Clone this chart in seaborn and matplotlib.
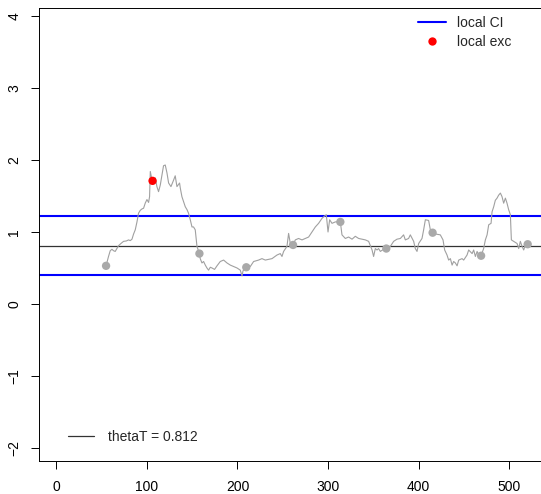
import matplotlib
matplotlib.use("Agg")
import matplotlib.pyplot as plt
from matplotlib.lines import Line2D
import seaborn as sns
import pandas as pd

# Running local estimate of theta along the series
series_x = [55.0, 57.7, 59.6, 61.5, 63.2, 65.1, 67.0, 68.8, 71.4, 74.3, 77.3, 79.8, 81.7, 83.6,
            85.3, 87.2, 89.1, 90.8, 92.7, 94.6, 96.4, 98.2, 100.1, 101.9, 103.0, 103.8, 104.9,
            106.3, 109.3, 111.1, 112.9, 114.8, 116.7, 118.4, 120.3, 122.2, 124.0, 126.6, 129.5,
            131.3, 133.2, 136.1, 136.9, 138.7, 140.5, 142.4, 144.3, 146.0, 147.9, 149.8, 151.5,
            153.4, 155.3, 158.0, 158.9, 160.8, 162.6, 164.5, 166.3, 168.1, 170.0, 171.9, 174.7,
            177.4, 181.0, 184.7, 188.4, 192.1, 195.7, 199.5, 203.1, 205.0, 206.1, 209.7, 212.3,
            214.1, 217.8, 223.3, 227.0, 230.7, 234.3, 238.1, 243.6, 247.2, 249.1, 250.9, 254.6,
            256.4, 258.3, 261.3, 263.8, 267.4, 271.2, 274.8, 278.5, 282.2, 285.9, 289.5, 293.3,
            295.0, 298.0, 299.9, 301.7, 304.3, 308.0, 313.5, 315.3, 319.0, 322.6, 326.4, 330.0,
            333.7, 337.4, 341.1, 344.7, 348.5, 350.2, 352.1, 354.0, 355.7, 357.6, 361.3, 364.2,
            368.7, 372.3, 376.0, 379.7, 383.3, 385.2, 388.8, 390.7, 394.4, 396.2, 398.1, 399.9,
            403.6, 405.4, 407.3, 410.9, 412.8, 415.3, 419.4, 423.8, 426.8, 428.6, 431.2, 433.0,
            434.9, 436.8, 438.5, 440.4, 442.3, 444.1, 447.8, 449.6, 453.3, 455.1, 458.9, 460.6,
            462.5, 464.4, 466.1, 468.8, 471.6, 473.5, 475.4, 477.2, 479.8, 480.9, 482.7, 484.5,
            486.4, 488.1, 490.1, 491.9, 493.7, 495.6, 497.4, 499.2, 501.1, 502.2, 504.7, 508.5,
            510.3, 512.1, 514.0, 515.8, 517.7, 520.2, 523.2]
series_y = [0.53, 0.66, 0.74, 0.76, 0.74, 0.73, 0.77, 0.81, 0.84, 0.87, 0.875, 0.89, 0.88, 0.90,
            0.97, 1.03, 1.14, 1.26, 1.30, 1.32, 1.33, 1.40, 1.45, 1.41, 1.49, 1.84, 1.77,
            1.71, 1.75, 1.63, 1.56, 1.65, 1.79, 1.92, 1.93, 1.82, 1.68, 1.63, 1.72,
            1.78, 1.63, 1.68, 1.61, 1.49, 1.42, 1.35, 1.31, 1.26, 1.17, 1.07, 1.07,
            1.03, 0.80, 0.70, 0.63, 0.57, 0.59, 0.54, 0.50, 0.47, 0.51, 0.50, 0.48,
            0.53, 0.59, 0.61, 0.57, 0.54, 0.52, 0.50, 0.47, 0.39, 0.46, 0.51, 0.54,
            0.52, 0.59, 0.61, 0.63, 0.61, 0.62, 0.63, 0.68, 0.70, 0.66, 0.73, 0.80,
            0.98, 0.84, 0.82, 0.89, 0.91, 0.89, 0.91, 0.93, 1.00, 1.07, 1.12, 1.19,
            1.21, 1.24, 1.00, 1.17, 1.12, 1.14, 1.14, 0.96, 0.91, 0.93, 0.90, 0.94,
            0.91, 0.90, 0.89, 0.87, 0.75, 0.66, 0.77, 0.75, 0.77, 0.73, 0.76, 0.77,
            0.80, 0.87, 0.90, 0.91, 0.96, 0.89, 0.91, 0.96, 0.87, 0.77, 0.73, 0.84,
            0.91, 1.03, 1.17, 1.16, 1.03, 0.99, 0.97, 0.96, 0.89, 0.75, 0.68, 0.61,
            0.63, 0.54, 0.59, 0.57, 0.53, 0.61, 0.63, 0.61, 0.68, 0.75, 0.70, 0.75,
            0.66, 0.73, 0.68, 0.67, 0.77, 0.89, 0.96, 1.10, 1.12, 1.28, 1.35, 1.44,
            1.47, 1.51, 1.54, 1.49, 1.40, 1.47, 1.40, 1.31, 1.24, 0.89, 0.87, 0.84,
            0.77, 0.87, 0.80, 0.75, 0.82, 0.83, 0.84]

# Checkpoints along the series
check_x = [55.0, 158.0, 209.7, 261.3, 313.5, 364.2, 415.3, 468.8, 520.2]
check_y = [0.53, 0.70, 0.51, 0.82, 1.14, 0.77, 0.99, 0.67, 0.83]

# Checkpoints falling outside the local CI
exc_x = [106.3]
exc_y = [1.71]

theta_T = 0.812
ci_low = 0.407
ci_high = 1.217

x_ticks = [0, 100, 200, 300, 400, 500]
y_ticks = [-2, -1, 0, 1, 2, 3, 4]

series = pd.DataFrame({"t": series_x, "theta": series_y})
checks = pd.DataFrame({"t": check_x, "theta": check_y})
excs = pd.DataFrame({"t": exc_x, "theta": exc_y})

sns.set_style("ticks")
plt.rcParams["font.family"] = ["Liberation Sans", "DejaVu Sans"]

W, H = 541, 494
fig = plt.figure(figsize=(W / 100, H / 100), dpi=100)
ax = fig.add_axes([39 / W, 33 / H, (542 - 39) / W, (461 - 8) / H])

ax.axhline(theta_T, color="#333333", lw=0.9, zorder=1)
ax.axhline(ci_low, color="#0000ff", lw=1.5, zorder=1)
ax.axhline(ci_high, color="#0000ff", lw=1.5, zorder=1)

sns.lineplot(data=series, x="t", y="theta", color="#a0a0a0", lw=0.8,
             estimator=None, sort=False, ax=ax, zorder=2)
sns.scatterplot(data=checks, x="t", y="theta", color="#a9a9a9", s=36,
                edgecolor="none", ax=ax, zorder=3)
sns.scatterplot(data=excs, x="t", y="theta", color="#ff0000", s=36,
                edgecolor="none", ax=ax, zorder=4)

ax.set_xlim(-19, 536)
ax.set_ylim(-2.18, 4.11)
ax.set_xticks(x_ticks)
ax.set_yticks(y_ticks)
ax.set_yticklabels([f"{v:g}".replace("-", "\u2212") for v in y_ticks],
                   rotation=90, va="center")
ax.set_xlabel("")
ax.set_ylabel("")
ax.tick_params(axis="both", direction="out", length=5.8, width=0.7,
               color="black", labelsize=10, labelcolor="black")
ax.tick_params(axis="x", pad=8)
ax.tick_params(axis="y", pad=7)
for sp in ax.spines.values():
    sp.set_visible(True)
    sp.set_color("black")
    sp.set_linewidth(0.7)

# Legends
h_ci = Line2D([], [], color="#0000ff", lw=1.5)
h_exc = Line2D([], [], color="#ff0000", marker="o", ls="none", markersize=6,
               markeredgecolor="none")
leg1 = ax.legend([h_ci, h_exc], ["local CI", "local exc"], loc="upper left",
                 bbox_to_anchor=(418 / W, 1 - 16 / H), bbox_transform=fig.transFigure,
                 frameon=False, fontsize=10, handlelength=2.0, handletextpad=0.8,
                 labelspacing=0.35, borderpad=0, borderaxespad=0)
ax.add_artist(leg1)

h_th = Line2D([], [], color="#333333", lw=0.9)
ax.legend([h_th], [f"thetaT = {theta_T}"], loc="upper left",
          bbox_to_anchor=(68 / W, 1 - 430 / H), bbox_transform=fig.transFigure,
          frameon=False, fontsize=10, handlelength=1.9, handletextpad=0.95,
          borderpad=0, borderaxespad=0)

fig.savefig("out.png", dpi=100)
